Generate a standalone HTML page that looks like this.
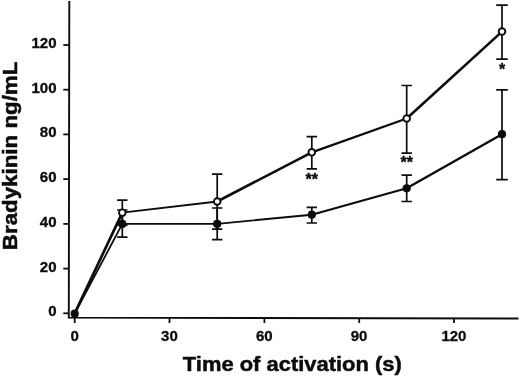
<!DOCTYPE html><html><head><meta charset="utf-8"><title>Bradykinin</title><style>html,body{margin:0;padding:0;background:#fff}svg{display:block}text{font-family:"Liberation Sans",sans-serif;font-weight:bold;fill:#0c0c0c}</style></head><body>
<svg width="520" height="378" viewBox="0 0 520 378">
<rect width="520" height="378" fill="#fff"/>
<g stroke="#0c0c0c" stroke-width="1.8" fill="none">
<path d="M69.3 1L68.8 317.6L518.5 318.5" stroke-linejoin="miter" stroke-width="1.9"/>
<path d="M63.3 313.3H69"/>
<path d="M63.3 268.6H69"/>
<path d="M63.3 223.9H69"/>
<path d="M63.3 179.1H69"/>
<path d="M63.3 134.4H69"/>
<path d="M63.3 89.7H69"/>
<path d="M63.3 45.0H69"/>
<path d="M74.7 317.6V323"/>
<path d="M169.5 317.8V323"/>
<path d="M264.4 318.0V323"/>
<path d="M359.2 318.2V323"/>
<path d="M454.0 318.4V323"/>
</g>
<text x="56.5" y="316.3" font-size="15" stroke="#0c0c0c" stroke-width="0.3" text-anchor="end">0</text>
<text x="56.5" y="271.6" font-size="15" stroke="#0c0c0c" stroke-width="0.3" text-anchor="end">20</text>
<text x="56.5" y="226.9" font-size="15" stroke="#0c0c0c" stroke-width="0.3" text-anchor="end">40</text>
<text x="56.5" y="182.1" font-size="15" stroke="#0c0c0c" stroke-width="0.3" text-anchor="end">60</text>
<text x="56.5" y="137.4" font-size="15" stroke="#0c0c0c" stroke-width="0.3" text-anchor="end">80</text>
<text x="56.5" y="92.7" font-size="15" stroke="#0c0c0c" stroke-width="0.3" text-anchor="end">100</text>
<text x="56.5" y="48.0" font-size="15" stroke="#0c0c0c" stroke-width="0.3" text-anchor="end">120</text>
<text x="74.6" y="340.8" font-size="15" stroke="#0c0c0c" stroke-width="0.3" text-anchor="middle">0</text>
<text x="169.4" y="340.8" font-size="15" stroke="#0c0c0c" stroke-width="0.3" text-anchor="middle">30</text>
<text x="264.3" y="340.8" font-size="15" stroke="#0c0c0c" stroke-width="0.3" text-anchor="middle">60</text>
<text x="359.1" y="340.8" font-size="15" stroke="#0c0c0c" stroke-width="0.3" text-anchor="middle">90</text>
<text x="453.9" y="340.8" font-size="15" stroke="#0c0c0c" stroke-width="0.3" text-anchor="middle">120</text>
<text x="292.3" y="371.2" font-size="20.8" stroke="#0c0c0c" stroke-width="0.5" stroke-linejoin="round" text-anchor="middle" textLength="219" lengthAdjust="spacingAndGlyphs">Time of activation (s)</text>
<text transform="translate(16.7 155.9) rotate(-90)" font-size="20.8" stroke="#0c0c0c" stroke-width="0.5" stroke-linejoin="round" text-anchor="middle" textLength="188.5" lengthAdjust="spacingAndGlyphs">Bradykinin ng/mL</text>
<g stroke="#0c0c0c" stroke-width="1.7" fill="none">
<path d="M122.3 200.2V225.2M117.1 200.2h10.4M117.1 225.2h10.4"/>
<path d="M217.2 174.2V229.2M212.0 174.2h10.4M212.0 229.2h10.4"/>
<path d="M311.8 136.7V168.9M306.6 136.7h10.4M306.6 168.9h10.4"/>
<path d="M406.7 85.5V153.2M401.5 85.5h10.4M401.5 153.2h10.4"/>
<path d="M502.0 5.2V59.1M496.2 5.2h11.6M496.2 59.1h11.6"/>
<path d="M122.3 210.0V237.1M117.1 210.0h10.4M117.1 237.1h10.4"/>
<path d="M217.2 208.0V239.7M212.0 208.0h10.4M212.0 239.7h10.4"/>
<path d="M311.8 207.3V223.0M306.6 207.3h10.4M306.6 223.0h10.4"/>
<path d="M406.7 175.1V201.5M401.5 175.1h10.4M401.5 201.5h10.4"/>
<path d="M502.0 89.9V179.6M496.2 89.9h11.6M496.2 179.6h11.6"/>
</g>
<path d="M74.7 313.3L122.3 212.7" fill="none" stroke="#0c0c0c" stroke-width="2.7" stroke-linecap="round"/>
<path d="M122.3 212.7L217.2 201.5" fill="none" stroke="#0c0c0c" stroke-width="1.8" stroke-linecap="round"/>
<path d="M217.2 201.5L311.8 152.3" fill="none" stroke="#0c0c0c" stroke-width="2.6" stroke-linecap="round"/>
<path d="M311.8 152.3L406.7 118.5" fill="none" stroke="#0c0c0c" stroke-width="2.3" stroke-linecap="round"/>
<path d="M406.7 118.5L502.0 31.6" fill="none" stroke="#0c0c0c" stroke-width="2.6" stroke-linecap="round"/>
<path d="M74.7 313.7L122.3 223.9" fill="none" stroke="#0c0c0c" stroke-width="1.8" stroke-linecap="round"/>
<path d="M122.3 223.9L217.2 223.9" fill="none" stroke="#0c0c0c" stroke-width="1.6" stroke-linecap="round"/>
<path d="M217.2 223.9L311.8 214.7" fill="none" stroke="#0c0c0c" stroke-width="1.9" stroke-linecap="round"/>
<path d="M311.8 214.7L406.7 188.3" fill="none" stroke="#0c0c0c" stroke-width="2.2" stroke-linecap="round"/>
<path d="M406.7 188.3L502.0 134.2" fill="none" stroke="#0c0c0c" stroke-width="2.4" stroke-linecap="round"/>
<circle cx="74.7" cy="313.7" r="4.1" fill="#0c0c0c"/>
<circle cx="122.3" cy="223.9" r="4.1" fill="#0c0c0c"/>
<circle cx="217.2" cy="223.9" r="4.1" fill="#0c0c0c"/>
<circle cx="311.8" cy="214.7" r="4.1" fill="#0c0c0c"/>
<circle cx="406.7" cy="188.3" r="4.1" fill="#0c0c0c"/>
<circle cx="502.0" cy="134.2" r="4.1" fill="#0c0c0c"/>
<circle cx="122.3" cy="212.7" r="3.3" fill="#fff" stroke="#0c0c0c" stroke-width="1.9"/>
<circle cx="217.2" cy="201.5" r="3.3" fill="#fff" stroke="#0c0c0c" stroke-width="1.9"/>
<circle cx="311.8" cy="152.3" r="3.3" fill="#fff" stroke="#0c0c0c" stroke-width="1.9"/>
<circle cx="406.7" cy="118.5" r="3.3" fill="#fff" stroke="#0c0c0c" stroke-width="1.9"/>
<circle cx="502.0" cy="31.6" r="3.3" fill="#fff" stroke="#0c0c0c" stroke-width="1.9"/>
<text x="311.8" y="185.3" font-size="16" text-anchor="middle" stroke="#0c0c0c" stroke-width="0.35">**</text>
<text x="406.7" y="168.1" font-size="16" text-anchor="middle" stroke="#0c0c0c" stroke-width="0.35">**</text>
<text x="502.0" y="74.7" font-size="16" text-anchor="middle" stroke="#0c0c0c" stroke-width="0.35">*</text>
</svg></body></html>
